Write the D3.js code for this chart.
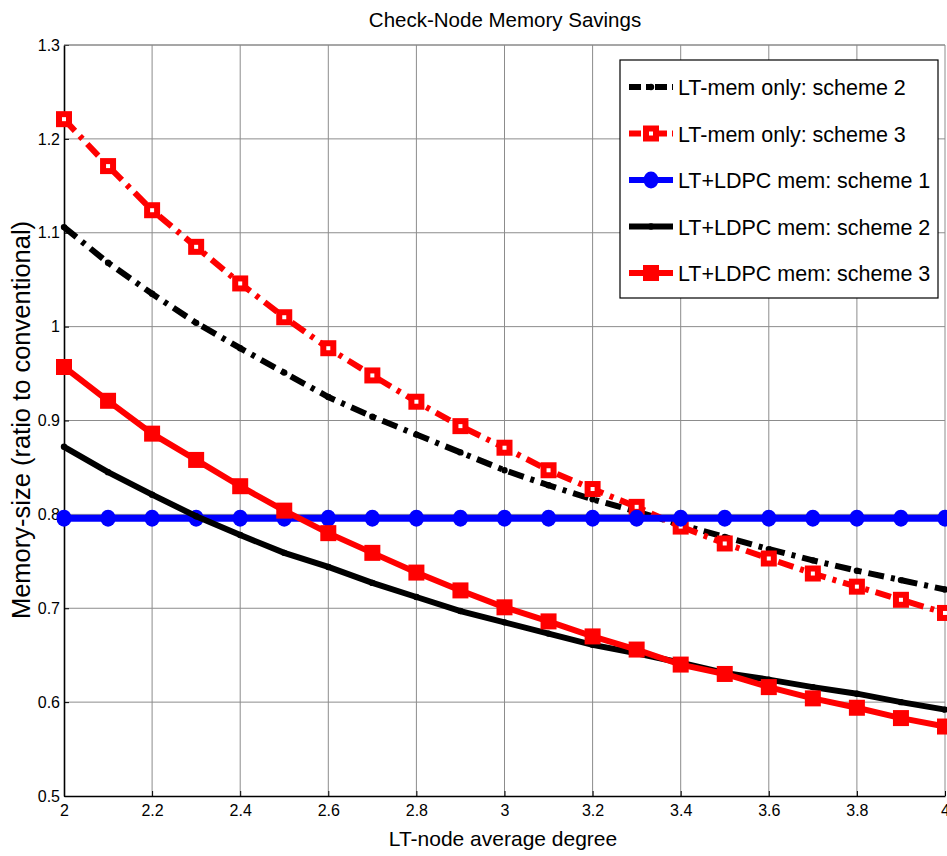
<!DOCTYPE html>
<html>
<head>
<meta charset="utf-8">
<script src="https://cdn.jsdelivr.net/npm/d3@7"></script>
<style>
  body { margin: 0; background: #fff; }
  #chart { width: 947px; height: 856px; }
  text { font-family: "Liberation Sans", Arial, sans-serif; fill: #000; }
</style>
</head>
<body>
<div id="chart"></div>
<script>
// LT-node average degree
const degree = [2.0, 2.1, 2.2, 2.3, 2.4, 2.5, 2.6, 2.7, 2.8, 2.9, 3.0,
  3.1, 3.2, 3.3, 3.4, 3.5, 3.6, 3.7, 3.8, 3.9, 4.0]

const memOnly2 = [1.106, 1.068, 1.035, 1.004, 0.977, 0.951, 0.925, 0.904, 0.885, 0.866, 0.847,
  0.831, 0.816, 0.803, 0.789, 0.776, 0.763, 0.751, 0.740, 0.730, 0.720]
const memOnly3 = [1.221, 1.171, 1.124, 1.085, 1.046, 1.010, 0.977, 0.948, 0.920, 0.894, 0.871,
  0.847, 0.827, 0.808, 0.787, 0.769, 0.753, 0.737, 0.723, 0.709, 0.695]
const ldpc1 = [0.796, 0.796, 0.796, 0.796, 0.796, 0.796, 0.796, 0.796, 0.796, 0.796, 0.796,
  0.796, 0.796, 0.796, 0.796, 0.796, 0.796, 0.796, 0.796, 0.796, 0.796]
const ldpc2 = [0.872, 0.845, 0.821, 0.798, 0.778, 0.759, 0.744, 0.727, 0.712, 0.697, 0.685,
  0.673, 0.661, 0.652, 0.642, 0.631, 0.624, 0.616, 0.609, 0.600, 0.592]
const ldpc3 = [0.957, 0.921, 0.886, 0.858, 0.830, 0.804, 0.780, 0.759, 0.738, 0.719, 0.701,
  0.686, 0.670, 0.656, 0.640, 0.630, 0.616, 0.604, 0.594, 0.583, 0.574]

const xTicks = [2, 2.2, 2.4, 2.6, 2.8, 3, 3.2, 3.4, 3.6, 3.8, 4]
const yTicks = [0.5, 0.6, 0.7, 0.8, 0.9, 1, 1.1, 1.2, 1.3]

const seriesNames = ["LT-mem only: scheme 2", "LT-mem only: scheme 3",
  "LT+LDPC mem: scheme 1", "LT+LDPC mem: scheme 2", "LT+LDPC mem: scheme 3"]
const seriesValues = [memOnly2, memOnly3, ldpc1, ldpc2, ldpc3]
const seriesColors = ["#000", "#ff0000", "#0000ff", "#000", "#ff0000"]
const seriesDash = ["16,7,4,7", "16,7,4,7", null, null, null]
const seriesMarker = ["dot", "squareHollow", "circle", "dot", "square"]

const width = 947
const height = 856
const plotLeft = 64, plotTop = 45, plotRight = 945, plotBottom = 796

const svg = d3.select("#chart").append("svg")
  .attr("viewBox", [0, 0, width, height])
  .attr("width", width)
  .attr("height", height)

const xScale = d3.scaleLinear().domain([2, 4]).range([plotLeft, plotRight])
const yScale = d3.scaleLinear().domain([0.5, 1.3]).range([plotBottom, plotTop])

// grid
const grid = svg.append("g").classed("grid", true)
  .attr("stroke", "#8c8c8c").attr("stroke-width", 1)
grid.selectAll("line.gx").data(xTicks.slice(1)).join("line").classed("gx", true)
  .attr("x1", d => xScale(d)).attr("x2", d => xScale(d))
  .attr("y1", plotTop).attr("y2", plotBottom)
grid.selectAll("line.gy").data(yTicks.slice(1)).join("line").classed("gy", true)
  .attr("x1", plotLeft).attr("x2", plotRight)
  .attr("y1", d => yScale(d)).attr("y2", d => yScale(d))

// axes (ticks point inward like matlab)
const axisX = svg.append("g").classed("axis x", true)
  .attr("transform", `translate(0,${plotBottom})`)
  .call(d3.axisBottom(xScale).tickValues(xTicks).tickSizeInner(-5).tickSizeOuter(0).tickPadding(10)
    .tickFormat(d3.format("")))
const axisY = svg.append("g").classed("axis y", true)
  .attr("transform", `translate(${plotLeft},0)`)
  .call(d3.axisLeft(yScale).tickValues(yTicks).tickSizeInner(-5).tickSizeOuter(0).tickPadding(4)
    .tickFormat(d3.format("")))
svg.selectAll(".axis text").attr("font-size", 16).attr("font-family", "Liberation Sans, Arial, sans-serif")
svg.selectAll(".axis .domain").attr("stroke", "#000").attr("stroke-width", 1.6)
axisX.selectAll("text").attr("dy", "0.6em")

svg.append("line").attr("x1", plotLeft).attr("x2", plotRight).attr("y1", plotTop).attr("y2", plotTop)
  .attr("stroke", "#888").attr("stroke-width", 1)

// series
const line = d3.line().x((d, i) => xScale(degree[i])).y(d => yScale(d))
const plot = svg.append("g").classed("plot", true)

function drawMarker(g, type, color, x, y) {
  if (type === "dot") {
    g.append("circle").attr("cx", x).attr("cy", y).attr("r", 3.2).attr("fill", color)
  } else if (type === "circle") {
    g.append("ellipse").attr("cx", x).attr("cy", y).attr("rx", 7.5).attr("ry", 8.5).attr("fill", color)
  } else {
    g.append("rect").attr("x", x - 8).attr("y", y - 8).attr("width", 16).attr("height", 16).attr("fill", color)
    if (type === "squareHollow") {
      g.append("rect").attr("x", x - 2).attr("y", y - 2).attr("width", 4).attr("height", 4).attr("fill", "#fff")
    }
  }
}

seriesValues.forEach((vals, s) => {
  const g = plot.append("g").classed("series", true)
  g.append("path")
    .attr("d", line(vals))
    .attr("fill", "none")
    .attr("stroke", seriesColors[s])
    .attr("stroke-width", s === 2 ? 7 : 6)
    .attr("stroke-dasharray", seriesDash[s])
  vals.forEach((v, i) => drawMarker(g, seriesMarker[s], seriesColors[s], xScale(degree[i]), yScale(v)))
})

// legend
const legend = svg.append("g").classed("legend", true)
legend.append("rect")
  .attr("x", 620).attr("y", 60).attr("width", 318).attr("height", 238)
  .attr("fill", "#fff").attr("stroke", "#000").attr("stroke-width", 1.2)
seriesNames.forEach((name, s) => {
  const cy = 87 + s * 46.5
  const g = legend.append("g")
  g.append("line").attr("x1", 629).attr("x2", 673).attr("y1", cy).attr("y2", cy)
    .attr("stroke", seriesColors[s]).attr("stroke-width", 6)
    .attr("stroke-dasharray", seriesDash[s] ? "12,5,4,5" : null)
  drawMarker(g, seriesMarker[s], seriesColors[s], 651, cy)
  g.append("text").attr("x", 678).attr("y", cy + 8)
    .attr("font-size", 21.5).text(name)
})

// titles
svg.append("text").attr("x", 505).attr("y", 27)
  .attr("text-anchor", "middle").attr("font-size", 20.5)
  .text("Check-Node Memory Savings")
svg.append("text").attr("x", 503).attr("y", 846)
  .attr("text-anchor", "middle").attr("font-size", 21)
  .text("LT-node average degree")
svg.append("text")
  .attr("transform", "translate(30,420) rotate(-90)")
  .attr("text-anchor", "middle").attr("font-size", 25.5)
  .text("Memory-size (ratio to conventional)")
</script>
</body>
</html>
